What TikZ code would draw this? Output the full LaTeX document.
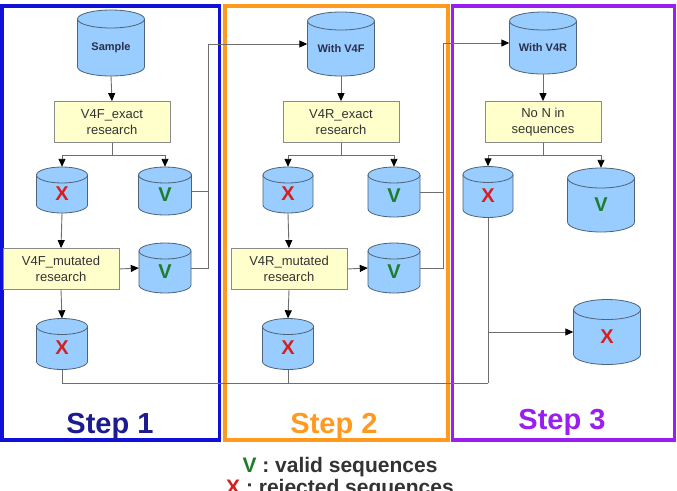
\documentclass[tikz,border=0pt]{standalone}
\usepackage{fontspec}
\setmainfont{Liberation Sans}
\usetikzlibrary{arrows.meta}
\definecolor{dbfill}{HTML}{99CCFF}
\definecolor{dbline}{HTML}{4F6478}
\definecolor{boxfill}{HTML}{FFFFCC}
\definecolor{boxline}{HTML}{8A8A8A}
\definecolor{connline}{HTML}{6E6E6E}
\definecolor{xred}{HTML}{D42020}
\definecolor{vgreen}{HTML}{1E7D2C}
\definecolor{stepblue}{HTML}{1010D8}
\definecolor{steporange}{HTML}{FF9A1E}
\definecolor{steppurple}{HTML}{9A1EEE}
\definecolor{txtblue}{HTML}{1C1C90}
\definecolor{dbtxt}{HTML}{2A2F4A}
\definecolor{legtxt}{HTML}{333333}
\tikzset{
  dbshape/.style={draw=dbline, fill=dbfill, line width=0.8pt},
  dbnode/.style={shape=rectangle, inner sep=0pt},
  dbtext/.style={font=\fontsize{11}{13}\selectfont\bfseries, text=dbtxt, inner sep=0pt},
  xtext/.style={font=\fontsize{20}{22}\selectfont\bfseries, text=xred, inner sep=0pt},
  vtext/.style={font=\fontsize{20}{22}\selectfont\bfseries, text=vgreen, inner sep=0pt},
  procbox/.style={draw=boxline, fill=boxfill, line width=0.8pt, minimum width=116pt, minimum height=41pt, align=center, inner sep=0pt, font=\fontsize{13}{16}\selectfont, text=black!80},
  conn/.style={draw=connline, line width=0.9pt},
  arr/.style={conn, -{Triangle[length=8pt,width=7pt,color=black]}},
  stepframe/.style={line width=3.8pt},
  steplabel/.style={font=\fontsize{29}{32}\selectfont\bfseries, inner sep=0pt, anchor=base},
  legend/.style={font=\fontsize{21}{24}\selectfont\bfseries, text=legtxt, inner sep=0pt, anchor=base}
}
% #1 name, #2 cx, #3 cy (downward), #4 width, #5 height, #6 ellipse ry, #7 style of text, #8 text
\newcommand\dbcyl[8]{%
  \draw[dbshape] ({#2-#4/2},{-#3+#5/2-#6}) -- ({#2-#4/2},{-#3-#5/2+#6})
     arc[start angle=180, end angle=360, x radius=#4/2, y radius=#6]
     -- ({#2+#4/2},{-#3+#5/2-#6})
     arc[start angle=0, end angle=180, x radius=#4/2, y radius=#6] -- cycle;
  \draw[dbshape, fill=none] ({#2-#4/2},{-#3+#5/2-#6})
     arc[start angle=180, end angle=360, x radius=#4/2, y radius=#6];
  \node[dbnode, minimum width=#4pt, minimum height=#5pt] (#1) at (#2,-#3) {};
  \node[#7] (#1t) at (#2,{-#3-#6/2}) {#8};
}
\begin{document}
\begin{tikzpicture}[x=1pt,y=1pt]
\useasboundingbox (0,0) rectangle (677,-490);
\fill[white] (0,0) rectangle (677,-490);

% step frames
\draw[stepframe, draw=stepblue] (1.9,-6) rectangle (219.5,-440);
\draw[stepframe, draw=steporange] (225,-6) rectangle (448,-440);
\draw[stepframe, draw=steppurple] (452.5,-6) rectangle (674.5,-440);

% Step 1
\dbcyl{s1}{111}{43}{67}{66}{9}{dbtext}{Sample}
\node[procbox] (b1) at (112,-122) {V4F\_exact\\research};
\dbcyl{x1}{62}{190}{51}{46}{8}{xtext}{X}
\dbcyl{v1}{165}{191}{53}{48}{8}{vtext}{V}
\node[procbox] (b2) at (61,-269) {V4F\_mutated\\research};
\dbcyl{v2}{165}{268}{52}{50}{8}{vtext}{V}
\dbcyl{x2}{62}{344}{51}{51}{8}{xtext}{X}

% Step 2
\dbcyl{s2}{341}{44}{67}{64}{9}{dbtext}{With V4F}
\node[procbox] (b3) at (341,-122) {V4R\_exact\\research};
\dbcyl{x3}{288}{190}{50}{46}{8}{xtext}{X}
\dbcyl{v3}{394}{192}{52}{50}{8}{vtext}{V}
\node[procbox] (b4) at (289,-269) {V4R\_mutated\\research};
\dbcyl{v4}{394}{268}{52}{50}{8}{vtext}{V}
\dbcyl{x4}{288}{344}{51}{51}{8}{xtext}{X}

% Step 3
\dbcyl{s3}{543}{43}{67}{62}{9}{dbtext}{With V4R}
\node[procbox] (b5) at (543,-122) {No N in\\sequences};
\dbcyl{x5}{488}{192}{50}{51}{8}{xtext}{X}
\dbcyl{v5}{601}{200}{67}{64}{10}{vtext}{V}
\dbcyl{x6}{607}{332}{67}{65}{10}{xtext}{X}

% junction coordinates
\coordinate (j1) at (112,-155);
\coordinate (j2) at (341,-155);
\coordinate (j3) at (543,-155);
\coordinate (bus1) at (208,0);
\coordinate (bus2) at (443,0);
\coordinate (bot) at (488,-383);

% Step 1 connectors
\draw[arr] (s1.south) -- (b1.north);
\draw[conn] (b1.south) -- (j1);
\draw[arr] (j1) -| (x1.north);
\draw[arr] (j1) -| (v1.north);
\draw[arr] (x1.south) -- (b2.north);
\draw[arr] (b2.east) -- (v2.west);
\draw[arr] (b2.south) -- (x2.north);
\draw[conn] (v1.east) -- (v1.east -| bus1);
\draw[arr] (v2.east) -- (v2.east -| bus1) |- (s2.west);

% Step 2 connectors
\draw[arr] (s2.south) -- (b3.north);
\draw[conn] (b3.south) -- (j2);
\draw[arr] (j2) -| (x3.north);
\draw[arr] (j2) -| (v3.north);
\draw[arr] (x3.south) -- (b4.north);
\draw[arr] (b4.east) -- (v4.west);
\draw[arr] (b4.south) -- (x4.north);
\draw[conn] (v3.east) -- (v3.east -| bus2);
\draw[arr] (v4.east) -- (v4.east -| bus2) |- (s3.west);

% Step 3 connectors
\draw[arr] (s3.south) -- (b5.north);
\draw[conn] (b5.south) -- (j3);
\draw[arr] (j3) -| (x5.north);
\draw[arr] (j3) -| (v5.north);

% rejected collection
\draw[conn] (x2.south) |- (bot);
\draw[conn] (x4.south) -- (x4.south |- bot);
\draw[conn] (x5.south) -- (bot);
\draw[arr] (x5.south |- x6.west) -- (x6.west);

% step labels
\node[steplabel, text=txtblue] (l1) at (110,-433) {Step 1};
\node[steplabel, text=steporange] (l2) at (334,-433) {Step 2};
\node[steplabel, text=steppurple] (l3) at (562,-429) {Step 3};

% legend
\node[legend] (leg1) at (340,-472) {\textcolor{vgreen}{V} : valid sequences};
\node[legend] (leg2) at (340,-494) {\textcolor{xred}{X} : rejected sequences};
\end{tikzpicture}
\end{document}
